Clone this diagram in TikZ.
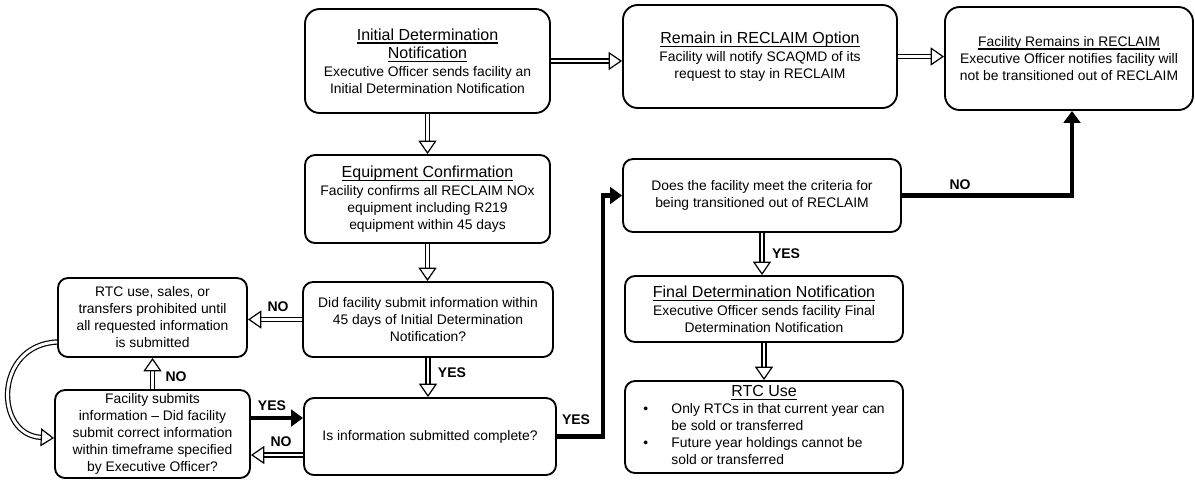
\documentclass[tikz,border=0pt]{standalone}
\usepackage{fontspec}
\setmainfont{Liberation Sans}
\usetikzlibrary{arrows.meta}
\newcommand{\uln}[1]{\setbox0\hbox{#1}\rlap{\rule[-2.6pt]{\wd0}{0.85pt}}\box0}
\newcommand{\ttl}[1]{{\fontsize{12pt}{13.5pt}\selectfont\uln{#1}}}
\begin{document}
\begin{tikzpicture}[x=0.75pt, y=-0.75pt,
  box/.style={draw, line width=1.4pt, rounded corners=7.5pt, align=center, inner sep=0pt,
     font=\fontsize{10.4pt}{12.75pt}\selectfont},
  topbox/.style={box, rounded corners=11pt},
  sz/.style 2 args={minimum width=#1*0.75pt, minimum height=#2*0.75pt},
  harrow/.style={line width=0.9pt, double=white, double distance=2.2pt,
     -{Triangle[open, length=10pt, width=13.5pt]}},
  karrow/.style={line width=3.6pt, -{Triangle[length=9pt, width=12.5pt]}},
  lbl/.style={font=\fontsize{10.5pt}{12pt}\selectfont\bfseries, inner sep=0pt},
]
\fill[white] (0,0) rectangle (1195,479);
\useasboundingbox (0,0) rectangle (1195,479);

% boxes
\node[topbox, sz={245}{104}] (b1) at (427.5,61) {\ttl{Initial Determination}\\[0.8pt]\ttl{Notification}\\[0.8pt]Executive Officer sends facility an\\Initial Determination Notification};
\node[topbox, sz={274}{103}] (b2) at (760,56.5) {\ttl{Remain in RECLAIM Option}\\[0.8pt]Facility will notify SCAQMD of its\\request to stay in RECLAIM};
\node[topbox, sz={248}{103}] (b3) at (1069,58.5) {\uln{Facility Remains in RECLAIM}\\[0.5pt]Executive Officer notifies facility will\\not be transitioned out of RECLAIM};
\node[box, sz={245}{88}] (b4) at (427.5,199) {\ttl{Equipment Confirmation}\\[0.8pt]Facility confirms all RECLAIM NOx\\equipment including R219\\equipment within 45 days};
\node[box, sz={250}{75}] (b5) at (428,319.5) {Did facility submit information within\\45 days of Initial Determination\\Notification?};
\node[box, sz={252}{77}] (b6) at (430,436.5) {Is information submitted complete?};
\node[box, sz={189}{79}] (b7) at (152.5,317.5) {RTC use, sales, or\\transfers prohibited until\\all requested information\\is submitted};
\node[box, sz={195}{88}] (b8) at (152.5,434) {Facility submits\\information – Did facility\\submit correct information\\within timeframe specified\\by Executive Officer?};
\node[box, sz={278}{73}] (b9) at (762,195.5) {Does the facility meet the criteria for\\being transitioned out of RECLAIM};
\node[box, sz={278}{66}] (b10) at (764,309) {\ttl{Final Determination Notification}\\[0.8pt]Executive Officer sends facility Final\\Determination Notification};
\node[box, sz={278}{92}] (b11) at (764,427) {\begin{tabular}{@{}l@{\hspace{17.5pt}}l@{}}\multicolumn{2}{c}{\ttl{RTC Use}}\\ • & Only RTCs in that current year can\\ & be sold or transferred\\ • & Future year holdings cannot be\\ & sold or transferred\end{tabular}};

% connectors
\draw[harrow] (b1.east) -- (b1.east -| b2.west);
\draw[harrow] (b2.east) -- (b2.east -| b3.west);
\draw[harrow] (b1.south) -- (b4.north);
\draw[harrow] (b4.south) -- (b4.south |- b5.north);
\draw[harrow] (b5.south) -- (b5.south |- b6.north);
\draw[harrow] (b5.west) -- (b5.west -| b7.east);
\draw[harrow] (b8.north) -- (b7.south);
\draw[karrow] (b8.east |- 0,418) -- (b6.west |- 0,418);
\draw[harrow] (b6.west |- 0,455) -- (b8.east |- 0,455);
\draw[harrow] (b7.west |- 0,342) .. controls (-6,345) and (-6,435) .. (b8.west |- 0,438);
\draw[karrow] (b6.east) -- (b6.east -| 603,0) |- (b9.west);
\draw[karrow] (b9.east) -| ([xshift=2.25pt]b3.south);
\draw[harrow] (b9.south) -- (b9.south |- b10.north);
\draw[harrow] (b10.south) -- (b11.north);

% labels
\node[lbl] (l1) at (278,307) {NO};
\node[lbl] (l2) at (452,373) {YES};
\node[lbl] (l3) at (176,377) {NO};
\node[lbl] (l4) at (272,406) {YES};
\node[lbl] (l5) at (281,442) {NO};
\node[lbl] (l6) at (576,420) {YES};
\node[lbl] (l7) at (960,185) {NO};
\node[lbl] (l8) at (786,254) {YES};
\end{tikzpicture}
\end{document}
